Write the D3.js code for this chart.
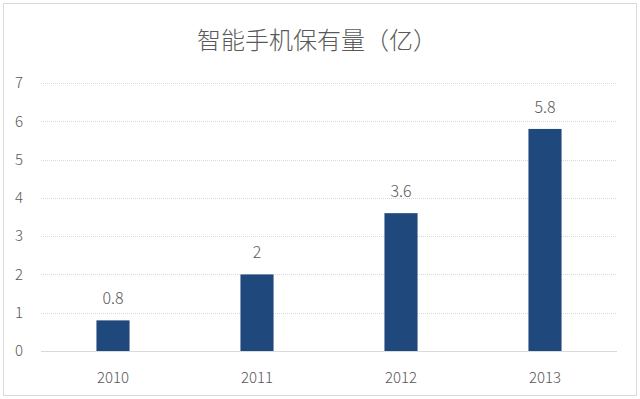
<!DOCTYPE html>
<html>
<head>
<meta charset="utf-8">
<script src="https://cdn.jsdelivr.net/npm/d3@7"></script>
<style>
  body { margin: 0; background: #fff; }
  text { font-family: "Noto Sans CJK SC", "Open Sans", sans-serif; fill: #595959; }
</style>
</head>
<body>
<svg width="640" height="399"></svg>
<script>
var years = ["2010", "2011", "2012", "2013"];
var values = [0.8, 2, 3.6, 5.8];
var yTicks = [0, 1, 2, 3, 4, 5, 6, 7];
var title = "智能手机保有量（亿）";

var svg = d3.select("svg"),
    width = +svg.attr("width"),
    height = +svg.attr("height");

var margin = {left: 41, right: 23, top: 83, bottom: 48};

// chart border
svg.append("rect")
    .attr("x", 3.5).attr("y", 3.5)
    .attr("width", 633).attr("height", 392)
    .attr("fill", "none")
    .attr("stroke", "#d9d9d9");

var x = d3.scaleBand()
    .domain(years)
    .range([margin.left, width - margin.right])
    .paddingInner(0.77)
    .paddingOuter(0.385);

var y = d3.scaleLinear()
    .domain([0, 7])
    .range([height - margin.bottom, margin.top]);

// gridlines
svg.append("g")
  .selectAll("line")
  .data(yTicks.filter(function(d) { return d > 0; }))
  .enter().append("line")
    .attr("x1", margin.left).attr("x2", width - margin.right)
    .attr("y1", function(d) { return Math.round(y(d)) + 0.5; })
    .attr("y2", function(d) { return Math.round(y(d)) + 0.5; })
    .attr("stroke", "#d9d9d9")
    .attr("stroke-dasharray", "1,1");

// y labels
svg.append("g")
  .selectAll("text")
  .data(yTicks)
  .enter().append("text")
    .attr("x", 19)
    .attr("y", function(d) { return y(d); })
    .attr("dy", "0.35em")
    .attr("text-anchor", "middle")
    .attr("font-size", 15)
    .attr("font-weight", 300)
    .text(function(d) { return d; });

// bars
svg.append("g")
  .selectAll("rect")
  .data(values)
  .enter().append("rect")
    .attr("x", function(d, i) { return x(years[i]); })
    .attr("y", function(d) { return y(d); })
    .attr("width", x.bandwidth())
    .attr("height", function(d) { return y(0) - y(d); })
    .attr("fill", "#1f497d");

// baseline
svg.append("line")
    .attr("x1", margin.left).attr("x2", width - margin.right)
    .attr("y1", Math.round(y(0)) + 0.5).attr("y2", Math.round(y(0)) + 0.5)
    .attr("stroke", "#d9d9d9");

// value labels
svg.append("g")
  .selectAll("text")
  .data(values)
  .enter().append("text")
    .attr("x", function(d, i) { return x(years[i]) + x.bandwidth() / 2; })
    .attr("y", function(d) { return y(d) - 16; })
    .attr("text-anchor", "middle")
    .attr("font-size", 16)
    .attr("font-weight", 300)
    .text(function(d) { return d; });

// x labels
svg.append("g")
  .selectAll("text")
  .data(years)
  .enter().append("text")
    .attr("x", function(d) { return x(d) + x.bandwidth() / 2; })
    .attr("y", y(0) + 27)
    .attr("dy", "0.35em")
    .attr("text-anchor", "middle")
    .attr("font-size", 15)
    .attr("font-weight", 300)
    .text(function(d) { return d; });

// title
svg.append("text")
    .attr("x", 317)
    .attr("y", 41)
    .attr("dy", "0.35em")
    .attr("text-anchor", "middle")
    .attr("font-size", 24)
    .attr("font-weight", 300)
    .text(title);
</script>
</body>
</html>
